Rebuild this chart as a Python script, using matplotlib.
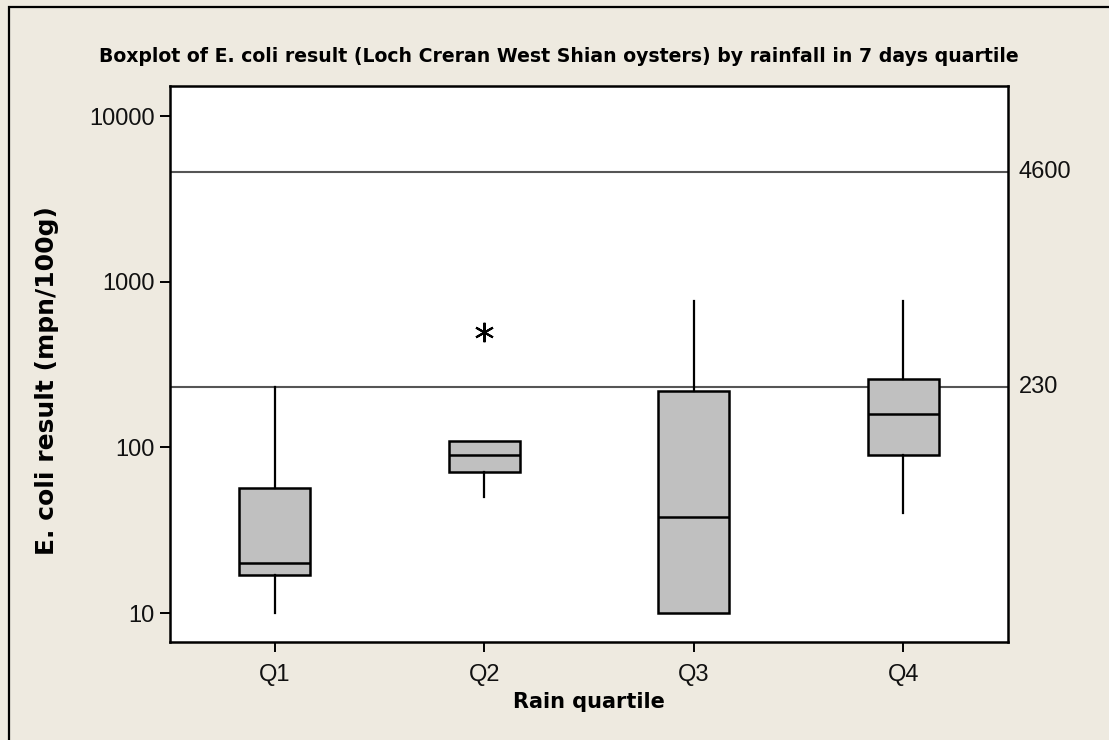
import matplotlib
matplotlib.use("Agg")
import matplotlib.pyplot as plt
from matplotlib.patches import Rectangle
from matplotlib.ticker import FixedLocator, FixedFormatter, NullLocator

# Rain quartile groups and their box statistics (E. coli, mpn/100g)
categories = ["Q1", "Q2", "Q3", "Q4"]
lower_whisker = [10, 50, 10, 40]
first_quartile = [17, 71, 10, 90]
medians = [20, 90, 38, 160]
third_quartile = [57, 110, 220, 260]
upper_whisker = [230, 110, 770, 770]
outliers = [[], [500], [], []]

# Classification thresholds drawn as reference lines
reference_levels = [230, 4600]
y_ticks = [10, 100, 1000, 10000]

bg = "#EEEAE0"
plt.rcParams["font.family"] = ["Liberation Sans", "DejaVu Sans"]
bold_font = "DejaVu Sans"

fig = plt.figure(figsize=(11.09, 7.40), dpi=100, facecolor=bg)
ax = fig.add_axes([170 / 1109, 1 - 642 / 740, (1008 - 170) / 1109, (642 - 86) / 740])
ax.set_facecolor("white")

stats = []
for i, name in enumerate(categories):
    stats.append(dict(label=name, whislo=lower_whisker[i], q1=first_quartile[i],
                      med=medians[i], q3=third_quartile[i], whishi=upper_whisker[i],
                      fliers=outliers[i]))

for lvl in reference_levels:
    ax.axhline(lvl, color="#555555", lw=1.5, zorder=1)
    ax.text(1.013, lvl, str(lvl), transform=ax.get_yaxis_transform(),
            ha="left", va="center", fontsize=17, color="#111111")

ax.bxp(stats, positions=range(1, len(categories) + 1), widths=0.34,
       patch_artist=True, showcaps=False,
       boxprops=dict(facecolor="#C0C0C0", edgecolor="black", linewidth=1.8),
       medianprops=dict(color="black", linewidth=1.8),
       whiskerprops=dict(color="black", linewidth=1.6),
       flierprops=dict(marker=(6, 2, 0), markersize=14, markeredgecolor="black",
                       markeredgewidth=1.5, linestyle="none"),
       zorder=3)

ax.set_yscale("log")
ax.set_ylim(6.69, 15195)
ax.set_xlim(0.5, 4.5)
ax.yaxis.set_major_locator(FixedLocator(y_ticks))
ax.yaxis.set_major_formatter(FixedFormatter([str(t) for t in y_ticks]))
ax.yaxis.set_minor_locator(NullLocator())
ax.set_xticks(range(1, len(categories) + 1))
ax.set_xticklabels(categories)

for s in ax.spines.values():
    s.set_linewidth(1.8)
    s.set_color("black")
ax.tick_params(axis="both", direction="out", length=7, width=1.4, color="black",
               labelsize=17, labelcolor="#111111", pad=4)
ax.tick_params(axis="x", pad=9)

fig.text(0.5 * (100 + 1018) / 1109, 1 - 57 / 740,
         "Boxplot of E. coli result (Loch Creran West Shian oysters) by rainfall in 7 days quartile",
         ha="center", va="center", fontsize=13.6, fontweight="bold", family=bold_font)
fig.text(589 / 1109, 1 - 702 / 740, "Rain quartile", ha="center", va="center",
         fontsize=15, fontweight="bold", family=bold_font)
fig.text(47 / 1109, 1 - 381 / 740, "E. coli result (mpn/100g)", ha="center", va="center",
         rotation=90, fontsize=18, fontweight="bold", family=bold_font)

# Outer frame, open on the right and bottom
fig.patches.append(Rectangle((8.5 / 1109, -0.05), 1.2, 1 - 7.5 / 740 + 0.05,
                             transform=fig.transFigure, fill=False,
                             edgecolor="black", linewidth=1.6, zorder=0))

fig.savefig("out.png", dpi=100, facecolor=bg)
